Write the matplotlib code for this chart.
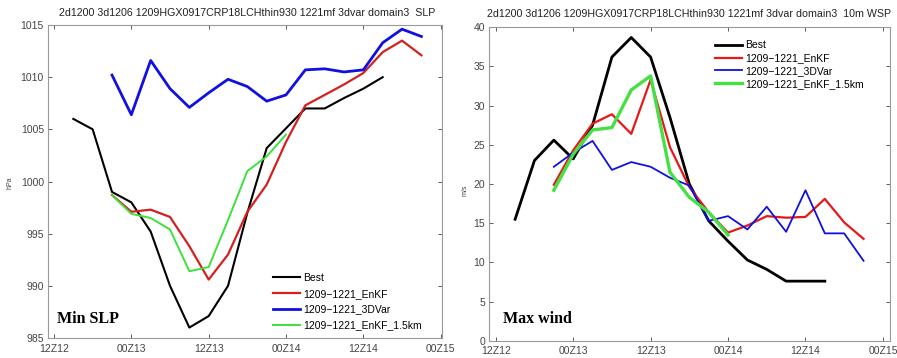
import numpy as np
import matplotlib
matplotlib.use("Agg")
import matplotlib.pyplot as plt

plt.rcParams['font.family'] = ['Liberation Sans', 'DejaVu Sans']

# hours from 12Z12, 3-hourly
tick_hours = [0, 12, 24, 36, 48, 60]
tick_labels = ['12Z12', '00Z13', '12Z13', '00Z14', '12Z14', '00Z15']

# ---- Min SLP (hPa)
slp_best_h = [3, 6, 9, 12, 15, 18, 21, 24, 27, 30, 33, 36, 39, 42, 45, 48, 51]
slp_best = [1006.0, 1005.0, 999.0, 998.0, 995.2, 990.0, 986.0, 987.1, 990.0, 997.0,
            1003.2, 1005.1, 1007.0, 1007.0, 1008.0, 1008.9, 1010.0]
slp_enkf_h = [9, 12, 15, 18, 21, 24, 27, 30, 33, 36, 39, 42, 45, 48, 51, 54, 57]
slp_enkf = [998.7, 997.1, 997.3, 996.6, 993.8, 990.6, 993.0, 997.1, 999.7, 1003.8,
            1007.3, 1008.3, 1009.3, 1010.4, 1012.4, 1013.5, 1012.1]
slp_3dvar_h = [9, 12, 15, 18, 21, 24, 27, 30, 33, 36, 39, 42, 45, 48, 51, 54, 57]
slp_3dvar = [1010.2, 1006.4, 1011.6, 1008.9, 1007.1, 1008.5, 1009.8, 1009.1, 1007.7,
             1008.3, 1010.7, 1010.8, 1010.5, 1010.7, 1013.3, 1014.6, 1013.9]
slp_15km_h = [9, 12, 15, 18, 21, 24, 27, 30, 33, 36]
slp_15km = [998.7, 996.9, 996.5, 995.4, 991.4, 991.8, 996.3, 1001.0, 1002.4, 1004.5]

# ---- Max wind (m/s)
ws_best_h = [3, 6, 9, 12, 15, 18, 21, 24, 27, 30, 33, 36, 39, 42, 45, 48, 51]
ws_best = [15.5, 23.0, 25.6, 23.2, 27.5, 36.2, 38.7, 36.2, 28.5, 20.0, 15.3, 12.7,
           10.3, 9.1, 7.6, 7.6, 7.6]
ws_enkf_h = [9, 12, 15, 18, 21, 24, 27, 30, 33, 36, 39, 42, 45, 48, 51, 54, 57]
ws_enkf = [19.9, 24.3, 27.7, 28.9, 26.4, 33.3, 24.7, 19.6, 16.4, 13.8, 14.7, 15.9,
           15.7, 15.8, 18.1, 15.1, 13.0]
ws_3dvar_h = [9, 12, 15, 18, 21, 24, 27, 30, 33, 36, 39, 42, 45, 48, 51, 54, 57]
ws_3dvar = [22.2, 24.0, 25.5, 21.8, 22.8, 22.2, 20.8, 19.8, 15.3, 15.9, 14.2, 17.1,
            13.9, 19.2, 13.7, 13.7, 10.2]
ws_15km_h = [9, 12, 15, 18, 21, 24, 27, 30, 33, 36]
ws_15km = [19.2, 23.8, 26.9, 27.2, 32.0, 33.8, 21.5, 18.3, 16.4, 13.5]

names = ['Best', '1209\u22121221_EnKF', '1209\u22121221_3DVar', '1209\u22121221_EnKF_1.5km']
title_base = '2d1200 3d1206 1209HGX0917CRP18LCHthin930 1221mf 3dvar domain3  '

W, H = 897, 358
fig = plt.figure(figsize=(W / 100, H / 100), dpi=100)


def style(ax):
    ax.set_xticks(tick_hours)
    ax.set_xticklabels(tick_labels)
    ax.tick_params(direction='in', length=3, width=0.6, labelsize=7.5,
                   top=True, right=True, colors='#444444', pad=3)
    ax.tick_params(axis='x', pad=4)
    for s in ax.spines.values():
        s.set_color('#999999')
        s.set_linewidth(0.8)


# left panel
ax1 = fig.add_axes([48 / W, 1 - 338 / H, (442 - 48) / W, (338 - 25) / H])
ax1.plot(slp_best_h, slp_best, color='black', lw=1.5, label=names[0])
ax1.plot(slp_enkf_h, slp_enkf, color='#d42020', lw=1.6, label=names[1])
ax1.plot(slp_3dvar_h, slp_3dvar, color='#1010e0', lw=2.0, label=names[2])
ax1.plot(slp_15km_h, slp_15km, color='#3ee03e', lw=1.4, label=names[3])
ax1.set_xlim(-0.93, 60.2)
ax1.set_ylim(985, 1015)
ax1.set_yticks(np.arange(985, 1016, 5))
style(ax1)
ax1.legend(loc='upper left', bbox_to_anchor=(273 / W, 1 - 273 / H),
           bbox_transform=fig.transFigure, frameon=False, fontsize=7.5,
           handlelength=2.6, handletextpad=0.3, labelspacing=0.55,
           borderpad=0, borderaxespad=0)
fig.text(247 / W, 1 - 13 / H, title_base + 'SLP', ha='center', va='center',
         fontsize=7.7, color='#222222')
fig.text(10 / W, 1 - 183 / H, 'hPa', rotation=90, ha='center', va='center',
         fontsize=5, color='#444444')
ax1.text(57 / W, 1 - 319 / H, 'Min SLP', transform=fig.transFigure,
         family='Liberation Serif', fontweight='bold', fontsize=11.5,
         ha='left', va='center')

# right panel
ax2 = fig.add_axes([489.3 / W, 1 - 340.7 / H, (890 - 489.3) / W, (340.7 - 27.3) / H])
ax2.plot(ws_best_h, ws_best, color='black', lw=2.0, label=names[0])
ax2.plot(ws_enkf_h, ws_enkf, color='#e81818', lw=1.6, label=names[1])
ax2.plot(ws_3dvar_h, ws_3dvar, color='#1010e0', lw=1.3, label=names[2])
ax2.plot(ws_15km_h, ws_15km, color='#44e044', lw=2.4, label=names[3])
ax2.set_xlim(-1.0, 61.1)
ax2.set_ylim(0, 40)
ax2.set_yticks(np.arange(0, 41, 5))
style(ax2)
ax2.legend(loc='upper left', bbox_to_anchor=(715 / W, 1 - 40.5 / H),
           bbox_transform=fig.transFigure, frameon=False, fontsize=7.5,
           handlelength=2.6, handletextpad=0.3, labelspacing=0.27,
           borderpad=0, borderaxespad=0)
fig.text(689 / W, 1 - 14 / H, title_base + '10m WSP', ha='center', va='center',
         fontsize=7.7, color='#222222')
fig.text(465 / W, 1 - 190 / H, 'm/s', rotation=90, ha='center', va='center',
         fontsize=5, color='#444444')
ax2.text(503 / W, 1 - 319 / H, 'Max wind', transform=fig.transFigure,
         family='Liberation Serif', fontweight='bold', fontsize=11.5,
         ha='left', va='center')

fig.savefig('out.png', dpi=100)
